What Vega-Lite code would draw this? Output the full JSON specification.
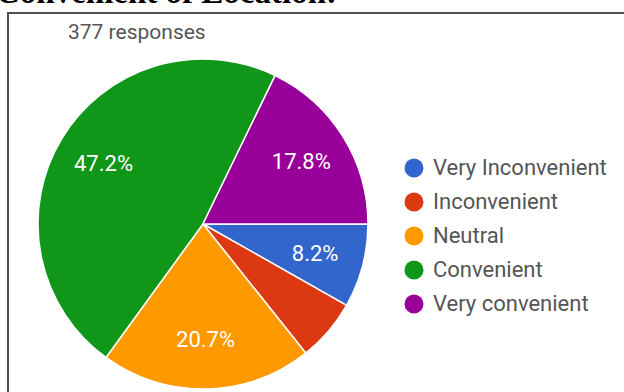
{
  "$schema": "https://vega.github.io/schema/vega-lite/v6.json",
  "padding": {"left": -4, "top": -23, "right": 0, "bottom": 0},
  "background": "white",
  "title": {"text": "Convenient of Location:", "anchor": "start", "font": "Liberation Serif", "fontSize": 33, "fontWeight": "bold", "color": "#000000", "offset": 2, "dx": -11},
  "config": {"view": {"stroke": "#505050", "strokeWidth": 2}, "concat": {"spacing": 0}},
  "data": {"values": [
    {"answer": "Very Inconvenient", "share": 0.082, "idx": 1},
    {"answer": "Inconvenient", "share": 0.061, "idx": 2},
    {"answer": "Neutral", "share": 0.207, "idx": 3},
    {"answer": "Convenient", "share": 0.472, "idx": 4},
    {"answer": "Very convenient", "share": 0.178, "idx": 5}
  ]},
  "vconcat": [{
    "width": 618,
    "height": 385,
    "title": {"text": "377 responses", "anchor": "start", "font": "Roboto", "fontSize": 21, "fontWeight": "normal", "color": "#555555", "offset": -30, "dx": 60},
    "encoding": {
      "x": {"datum": 0.3155, "type": "quantitative", "scale": {"domain": [0, 1], "nice": false, "zero": false}, "axis": null},
      "y": {"datum": 0.548, "type": "quantitative", "scale": {"domain": [0, 1], "nice": false, "zero": false, "reverse": true}, "axis": null},
      "theta": {"field": "share", "type": "quantitative", "stack": true, "scale": {"range": [1.5708, 7.854]}},
      "order": {"field": "idx", "type": "quantitative"}
    },
    "layer": [
      {
        "mark": {"type": "arc", "outerRadius": 165, "stroke": "white", "strokeWidth": 1.5},
        "encoding": {
          "color": {
            "field": "answer", "type": "nominal",
            "scale": {"domain": ["Very Inconvenient", "Inconvenient", "Neutral", "Convenient", "Very convenient"], "range": ["#3366cc", "#dc3912", "#ff9900", "#109618", "#990099"]},
            "legend": {"title": null, "orient": "none", "legendX": 395, "legendY": 144, "symbolType": "circle", "symbolSize": 360, "symbolStrokeWidth": 0, "labelFont": "Roboto", "labelFontSize": 22, "labelColor": "#555555", "labelOffset": 8, "labelLimit": 300, "rowPadding": 12}
          }
        }
      },
      {
        "mark": {"type": "text", "radius": 116, "fill": "white", "fontSize": 22, "font": "Roboto"},
        "encoding": {
          "text": {"field": "share", "type": "quantitative", "format": ".1%"},
          "opacity": {"condition": {"test": "datum.share < 0.07", "value": 0}, "value": 1}
        }
      }
    ]
  }]
}
